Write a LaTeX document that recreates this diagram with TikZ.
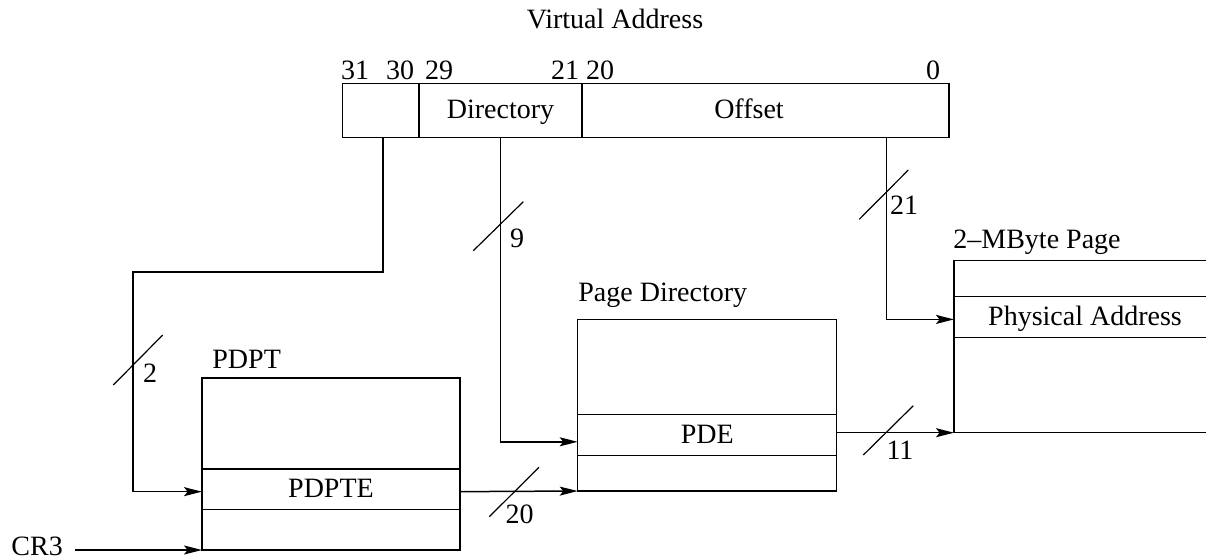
\documentclass[tikz,border=0pt]{standalone}
\usepackage{fontspec}
\setmainfont{Liberation Serif}
\usetikzlibrary{arrows.meta}
\begin{document}
\begin{tikzpicture}[x=0.5pt,y=-0.5pt,
  every node/.style={font=\fontsize{14}{16}\selectfont},
  cell/.style={draw, line width=0.6pt, inner sep=0pt, outer sep=0pt, text height=9pt, text depth=0.5pt},
  lbl/.style={inner sep=0pt, anchor=base west},
  bit/.style={inner sep=0pt, anchor=base},
  conn/.style={line width=0.75pt},
  arr/.style={conn, -{Stealth[length=9pt,width=4.5pt,inset=1.8pt]}},
  slash/.style={line width=0.6pt}]
\useasboundingbox (0,0) rectangle (1206,559);
\clip (0,0) rectangle (1206,559);

% virtual address
\node[bit] (va) at (615,28) {Virtual Address};
\node[cell, minimum width=38.15pt, minimum height=27pt] (f1) at (380.85,110.3) {};
\node[cell, minimum width=81.5pt, minimum height=27pt] (f2) at (500.5,110.3) {Directory};
\node[cell, minimum width=183.5pt, minimum height=27pt] (f3) at (765.5,110.3) {};
\node[bit] (offlbl) at (749,118.8) {Offset};
\node[bit] (b31) at (355,79) {31};
\node[bit] (b30) at (400,79) {30};
\node[bit] (b29) at (439,79) {29};
\node[bit] (b21) at (565,79) {21};
\node[bit] (b20) at (600,79) {20};
\node[bit] (b0) at (933,79) {0};

% PDPT
\node[cell, minimum width=129pt, minimum height=45.5pt] (pdpttop) at (331,423.5) {};
\node[cell, minimum width=129pt, minimum height=20.25pt] (pdpte) at (331,489.25) {PDPTE};
\node[cell, minimum width=129pt, minimum height=20.25pt] (pdptbot) at (331,529.75) {};
\node[lbl] (pdptlbl) at (212,368) {PDPT};

% Page directory
\node[cell, minimum width=129.5pt, minimum height=47.5pt] (pdtop) at (707.2,366.8) {};
\node[cell, minimum width=129.5pt, minimum height=20.5pt] (pde) at (707.2,434.8) {PDE};
\node[cell, minimum width=129.5pt, minimum height=17.85pt] (pdbot) at (707.2,473.15) {};
\node[lbl] (pdlbl) at (578,301) {Page Directory};

% 2-MByte page
\node[cell, minimum width=131pt, minimum height=18pt] (pgtop) at (1085,278.7) {};
\node[cell, minimum width=131pt, minimum height=20.3pt] (phys) at (1085,317) {Physical Address};
\node[cell, minimum width=131pt, minimum height=47.7pt] (pgbot) at (1085,385) {};
\node[lbl] (pglbl) at (953,248) {2–MByte Page};

% CR3
\node[lbl] (cr3) at (11,555) {CR3};

% connectors
\coordinate (bend) at (133,272);
\draw[arr] ([xshift=1pt]f1.south) |- (bend) |- ([yshift=-1.2pt]pdpte.west);
\draw[arr] (f2.south) |- ([yshift=-3.5pt]pde.west);
\draw[arr] ([xshift=60.6pt]f3.south) |- ([yshift=-1.2pt]phys.west);
\draw[arr] ([yshift=-1.2pt]pdpte.east) -- (pdbot.south west);
\draw[arr] (pde.east |- pgbot.south) -- (pgbot.south west);
\draw[arr] ([xshift=6pt]cr3.east |- pdptbot.south) -- (pdptbot.south west);

% bus-width slashes
\draw[slash] (113.3,385) -- (162.7,335);
\node[inner sep=0pt] (w2) at (150,373) {2};
\draw[slash] (473.3,250.7) -- (523.3,201.7);
\node[inner sep=0pt] (w9) at (517,238) {9};
\draw[slash] (859.3,219.3) -- (908.3,170);
\node[inner sep=0pt] (w21) at (904,205) {21};
\draw[slash] (489.3,516.7) -- (539,467.3);
\node[inner sep=0pt] (w20) at (519.5,514.5) {20};
\draw[slash] (863.3,455) -- (913.3,405.7);
\node[inner sep=0pt] (w11) at (900,450) {11};
\end{tikzpicture}
\end{document}
